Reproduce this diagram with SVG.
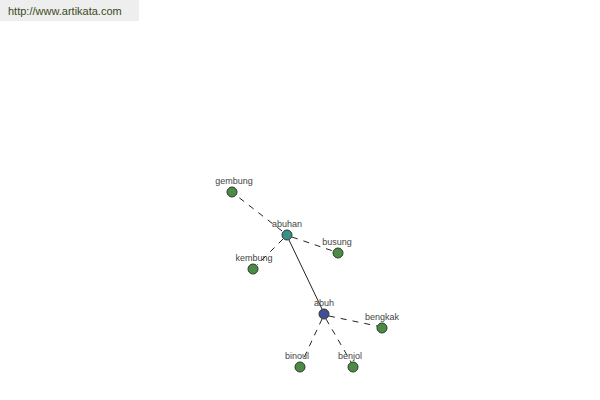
<svg xmlns="http://www.w3.org/2000/svg" width="600" height="400" viewBox="0 0 600 400">
<style>
.lbl{font-family:"Liberation Sans",Arial,sans-serif;font-size:9px;fill:#444;text-anchor:middle}
.n{stroke:#2a3a2a;stroke-width:1}
.leaf{fill:#4d8a45}
.dash{stroke:#222;stroke-width:1;stroke-dasharray:6,6;fill:none}
.solid{stroke:#222;stroke-width:1;fill:none}
</style>
<rect width="600" height="400" fill="#fff"/>
<g id="header">
<rect x="0" y="0" width="139" height="21" fill="#eeeeee"/>
<text x="8" y="15" font-family="'Liberation Sans',Arial,sans-serif" font-size="11" fill="#3a4a1a">http://www.artikata.com</text>
</g>
<g id="connectors">
<line class="dash" x1="282" y1="231" x2="237" y2="196"/>
<line class="dash" x1="292" y1="237" x2="333" y2="251"/>
<line class="dash" x1="283" y1="239" x2="257" y2="265"/>
<line class="solid" x1="289" y1="240" x2="322" y2="309"/>
<line class="dash" x1="329" y1="316" x2="377" y2="326"/>
<line class="dash" x1="322" y1="319" x2="302" y2="362"/>
<line class="dash" x1="326" y1="319" x2="351" y2="362"/>
</g>
<g id="node-gembung"><circle class="n leaf" cx="232" cy="192" r="5"/><text class="lbl" x="234" y="184">gembung</text></g>
<g id="node-abuhan"><circle class="n" fill="#3a8f8a" cx="287" cy="235" r="5"/><text class="lbl" x="287" y="227">abuhan</text></g>
<g id="node-busung"><circle class="n leaf" cx="338" cy="253" r="5"/><text class="lbl" x="337" y="245">busung</text></g>
<g id="node-kembung"><circle class="n leaf" cx="253" cy="269" r="5"/><text class="lbl" x="254" y="261">kembung</text></g>
<g id="node-abuh"><circle class="n" fill="#3f4f9a" cx="324" cy="314" r="5"/><text class="lbl" x="324" y="306">abuh</text></g>
<g id="node-bengkak"><circle class="n leaf" cx="382" cy="328" r="5"/><text class="lbl" x="382" y="320">bengkak</text></g>
<g id="node-binoul"><circle class="n leaf" cx="300" cy="367" r="5"/><text class="lbl" x="297" y="359">binoul</text></g>
<g id="node-benjol"><circle class="n leaf" cx="353" cy="367" r="5"/><text class="lbl" x="350" y="359">benjol</text></g>
</svg>
